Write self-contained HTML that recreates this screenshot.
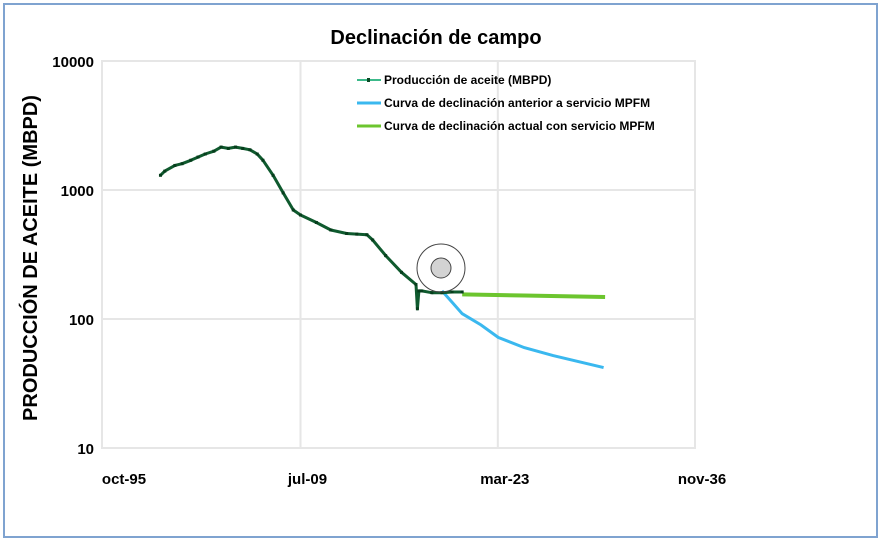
<!DOCTYPE html>
<html><head><meta charset="utf-8"><style>
body{margin:0;background:#fff;width:879px;height:542px;overflow:hidden;font-family:"Liberation Sans",sans-serif}
</style></head><body>
<svg width="879" height="542" font-family="Liberation Sans, sans-serif">
<rect x="4" y="4" width="873" height="533" fill="#fff" stroke="#7fa3d0" stroke-width="2"/>
<text x="436" y="44" text-anchor="middle" font-size="20" font-weight="bold">Declinación de campo</text>
<text transform="translate(37,258) rotate(-90)" text-anchor="middle" font-size="20" font-weight="bold">PRODUCCIÓN DE ACEITE (MBPD)</text>
<g id="grid"></g><g id="ticks"></g><g id="series"></g>
<g>
<circle cx="441" cy="268" r="24" fill="none" stroke="#444" stroke-width="1"/>
<circle cx="441" cy="268" r="10" fill="#d3d3d3" stroke="#444" stroke-width="1"/>
</g>
<g font-size="12" font-weight="bold">
<g><line x1="357" y1="80" x2="381" y2="80" stroke="#3cb98a" stroke-width="2"/><rect x="367" y="78" width="3" height="4" fill="#0b4a25"/><text x="384" y="84">Producción de aceite (MBPD)</text></g>
<g><line x1="357" y1="103" x2="381" y2="103" stroke="#3ab8ef" stroke-width="3"/><text x="384" y="107">Curva de declinación anterior a servicio MPFM</text></g>
<g><line x1="357" y1="126" x2="381" y2="126" stroke="#6cc52e" stroke-width="3"/><text x="384" y="130">Curva de declinación actual con servicio MPFM</text></g>
</g>
</svg>
<script>
const xTickYears=[1995.75,2009.5,2023.17,2036.83];
const xTickLabels=["oct-95","jul-09","mar-23","nov-36"];
const yTickValues=[10,100,1000,10000];
const yTickLabels=["10","100","1000","10000"];
const prodYears=[1999.8,2000.1,2000.8,2001.3,2001.9,2002.4,2002.9,2003.5,2004.0,2004.5,2005.0,2005.5,2006.0,2006.5,2006.9,2007.6,2008.3,2009.0,2009.5,2010.6,2011.6,2012.7,2013.4,2014.1,2014.5,2015.4,2016.5,2017.5,2017.6,2017.7,2017.9,2018.6,2019.3,2020.0,2020.7];
const prodValues=[1300,1400,1550,1600,1700,1800,1900,2000,2150,2100,2150,2100,2050,1900,1700,1300,950,700,640,560,490,460,455,450,410,310,230,185,120,165,165,160,160,162,162];
const currYears=[2020.7,2025.0,2030.6];
const currValues=[155,152,148];
const prevYears=[2019.3,2020.0,2020.7,2022.0,2023.2,2025.0,2027.0,2030.5];
const prevValues=[165,135,110,90,72,60,52,42];
const L=102,R=695,T=61,B=448;
const xS=y=>L+(y-1995.75)/(2036.83-1995.75)*(R-L);
const yS=v=>B-(Math.log10(v)-1)/3*(B-T);
const NS="http://www.w3.org/2000/svg";
function mk(t,p,a){const e=document.createElementNS(NS,t);for(const k in a)e.setAttribute(k,a[k]);p.appendChild(e);return e;}
const grid=document.getElementById('grid'),ticks=document.getElementById('ticks'),ser=document.getElementById('series');
const pa=mk('rect',grid,{x:L,y:T,width:R-L,height:B-T,fill:'#fff',stroke:'#e6e6e6','stroke-width':2});


yTickValues.forEach((v,i)=>{
 const g=mk('line',grid,{x1:L,x2:R,y1:yS(v),y2:yS(v),stroke:'#e6e6e6','stroke-width':2});
 
 
 const t=mk('text',ticks,{x:94,y:yS(v)+6,'text-anchor':'end','font-size':15,'font-weight':'bold'});
 t.textContent=yTickLabels[i];
 
 
});
xTickYears.forEach((yr,i)=>{
 const g=mk('line',grid,{x1:xS(yr),x2:xS(yr),y1:T,y2:B,stroke:'#e6e6e6','stroke-width':2});
 
 
 const t=mk('text',ticks,{x:xS(yr)+(i==0?22:7),y:484,'text-anchor':'middle','font-size':15,'font-weight':'bold'});
 t.textContent=xTickLabels[i];
 
 
});
function pts(xs,vs){return xs.map((x,i)=>xS(x).toFixed(1)+','+yS(vs[i]).toFixed(1)).join(' ');}
const pc=mk('polyline',ser,{points:pts(prevYears,prevValues),fill:'none',stroke:'#3ab8ef','stroke-width':3});


const cc=mk('polyline',ser,{points:pts(currYears,currValues),fill:'none',stroke:'#6cc52e','stroke-width':4});


const pl=mk('polyline',ser,{points:pts(prodYears,prodValues),fill:'none',stroke:'#0f5a2e','stroke-width':3,'stroke-linejoin':'round'});


prodYears.forEach((yr,i)=>{
 const m=mk('rect',ser,{x:xS(yr)-1.5,y:yS(prodValues[i])-1.5,width:3,height:3,fill:'#063d1c'});
 
 
});
</script>
</body></html>
